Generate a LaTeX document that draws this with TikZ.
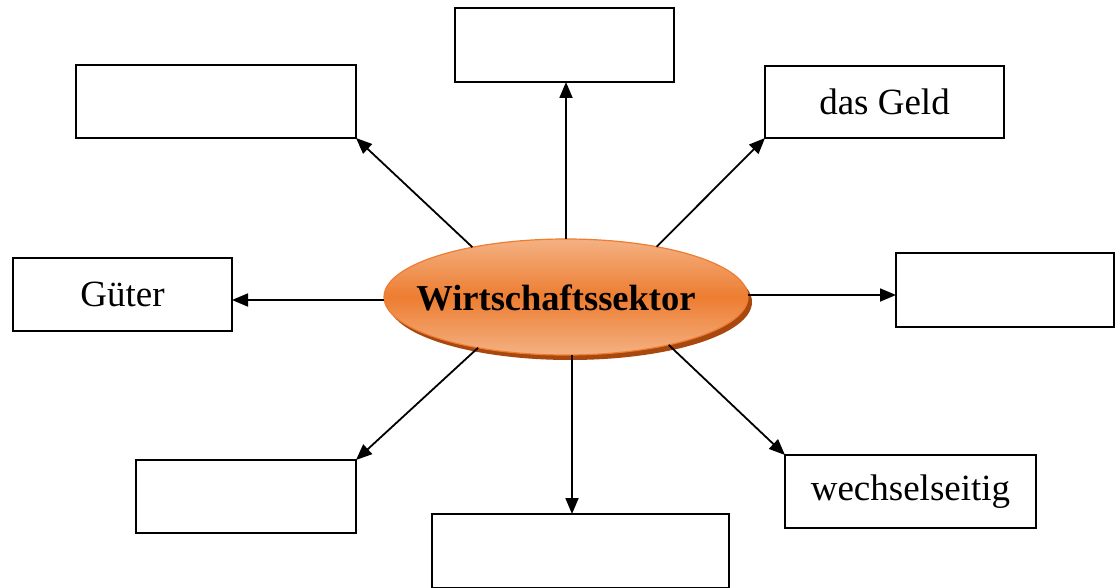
\documentclass[tikz,border=0pt]{standalone}
\usepackage{fontspec}
\setmainfont{Liberation Serif}
\usetikzlibrary{arrows.meta,shapes.geometric}
\definecolor{orA}{HTML}{ED7D31}
\definecolor{orL}{HTML}{F4B183}
\definecolor{orD}{HTML}{A8480E}
\begin{document}
\begin{tikzpicture}[x=1pt,y=-1pt,
  box/.style={draw=black,line width=1.4pt,rectangle,outer sep=0pt,inner sep=0pt,
    font=\fontsize{37}{42}\selectfont},
  conn/.style={line width=1.8pt,-{Triangle[length=16pt,width=13pt]}}]
\useasboundingbox (0,0) rectangle (1119,588);
% shadow of ellipse
\fill[orD] (570,302) ellipse [x radius=182, y radius=58];
\node[ellipse,draw=orA,line width=1.2pt,minimum width=364pt,minimum height=116pt,
  outer sep=0pt,inner sep=0pt,
  top color=orL,bottom color=orL,middle color=orA] (e) at (566,297) {};
\node[font=\fontsize{36.5}{42}\selectfont\bfseries,inner sep=0pt] (et) at (556,298) {Wirtschaftssektor};
\node[box,minimum width=219pt,minimum height=74pt] (t) at (564.5,45) {};
\node[box,minimum width=280pt,minimum height=73pt] (tl) at (216,101.5) {};
\node[box,minimum width=239pt,minimum height=72pt] (tr) at (884.5,102) {das Geld};
\node[box,minimum width=218pt,minimum height=74pt] (r) at (1005,290) {};
\node[box,minimum width=219pt,minimum height=73pt] (l) at (122.5,294.5) {Güter};
\node[box,minimum width=220pt,minimum height=73pt] (bl) at (246,496.5) {};
\node[box,minimum width=297pt,minimum height=74pt] (b) at (580.5,551) {};
\node[box,minimum width=251pt,minimum height=73pt] (br) at (910.5,491.5) {wechselseitig};
\draw[conn] (e.north) -- (e.north |- t.south);
\draw[conn] (e.152) -- (tl.south east);
\draw[conn] (e.29) -- (tr.south west);
\draw[conn] ([yshift=2pt]e.east) -- ([yshift=2pt]e.east -| r.west);
\draw[conn] ([yshift=-3pt]e.west) -- ([yshift=-3pt]e.west -| l.east);
\draw[conn] (e.210) -- (bl.north east);
\draw[conn] ([xshift=6pt]e.south) -- ([xshift=6pt]e.south |- b.north);
\draw[conn] (e.335) -- (br.north west);
\end{tikzpicture}
\end{document}
